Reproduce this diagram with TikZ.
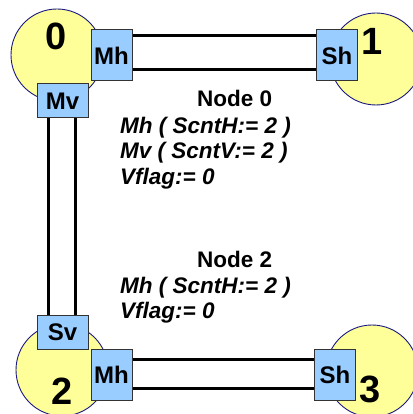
\documentclass[tikz,border=0pt]{standalone}
\usepackage{fontspec}
\setmainfont{Liberation Sans}
\usetikzlibrary{positioning}
\definecolor{disk}{HTML}{FFFF99}
\definecolor{diskline}{HTML}{1A1A80}
\definecolor{port}{HTML}{99CCFF}
\definecolor{portline}{HTML}{333333}
\tikzset{
  station/.style={circle,draw=diskline,line width=0.9pt,fill=disk,minimum size=92pt,inner sep=0pt},
  num/.style={font=\fontsize{38}{40}\selectfont\bfseries,inner sep=0pt},
  porth/.style={rectangle,draw=portline,line width=1pt,fill=port,minimum width=41pt,minimum height=51pt,inner sep=0pt,font=\fontsize{24}{26}\selectfont\bfseries},
  portv/.style={rectangle,draw=portline,line width=1pt,fill=port,minimum width=51pt,minimum height=34pt,inner sep=0pt,font=\fontsize{24}{26}\selectfont\bfseries},
  link/.style={line width=3pt,black},
  title/.style={anchor=base west,inner sep=0pt,font=\fontsize{22.5}{25.8}\selectfont\bfseries},
  state/.style={anchor=north west,inner sep=0pt,align=left,font=\fontsize{22.5}{25.8}\selectfont\bfseries\itshape}
}
\begin{document}
\begin{tikzpicture}[x=1pt,y=-1pt]
  \useasboundingbox (0,0) rectangle (412,414);
  % stations
  \node[station] (c0) at (57,55) {};
  \node[station] (c1) at (376,59) {};
  \node[station] (c2) at (62,370) {};
  \node[station] (c3) at (372,371) {};
  \node[num] at (56.5,36.5) (n0) {0};
  \node[num] at (372,41) (n1) {1};
  \node[num] at (62,391) (n2) {2};
  \node[num] at (370.5,389.5) (n3) {3};

  % ports
  \node[porth] (mh0) at (111.5,55.5) {Mh};
  \node[porth] (sh1) at (337,55.5) {Sh};
  \node[portv] (mv0) at (62.5,101) {Mv};
  \node[portv] (sv2) at (62.5,332) {Sv};
  \node[porth] (mh2) at (111.5,374.5) {Mh};
  \node[porth] (sh3) at (335,374.5) {Sh};

  % links
  \draw[link] (mh0.east |- 0,36) -- (sh1.west |- 0,36);
  \draw[link] (mh0.east |- 0,70) -- (sh1.west |- 0,70);
  \draw[link] (mv0.south -| 48,0) -- (sv2.north -| 48,0);
  \draw[link] (mv0.south -| 75,0) -- (sv2.north -| 75,0);
  \draw[link] (mh2.east |- 0,359) -- (sh3.west |- 0,359);
  \draw[link] (mh2.east |- 0,388) -- (sh3.west |- 0,388);

  % state texts
  \node[title] (t0) at (197,107) {Node 0};
  \node[state] (s0) at (120,116.5) {Mh ( ScntH:= 2 )\\Mv ( ScntV:= 2 )\\Vflag:= 0};
  \node[title] (t2) at (197,267) {Node 2};
  \node[state] (s2) at (120,276.5) {Mh ( ScntH:= 2 )\\Vflag:= 0};
\end{tikzpicture}
\end{document}
